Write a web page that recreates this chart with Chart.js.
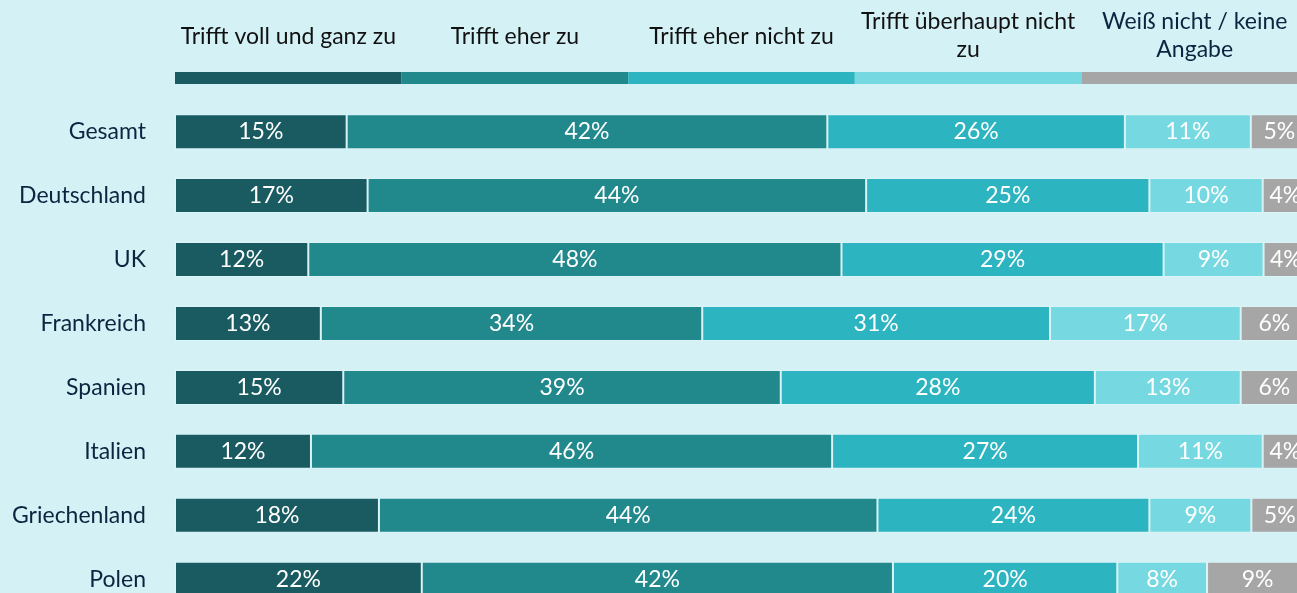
<!DOCTYPE html>
<html>
<head>
<meta charset="utf-8">
<script src="https://cdn.jsdelivr.net/npm/chart.js@4.4.1/dist/chart.umd.min.js"></script>
<style>
  html, body { margin: 0; padding: 0; background: #d4f1f5; overflow: hidden; width: 1297px; height: 593px; }
  #wrap { position: relative; width: 1320px; height: 654px; }
</style>
</head>
<body>
<div id="wrap"><canvas id="c" width="1320" height="654"></canvas></div>
<script>
const categories = ["Gesamt", "Deutschland", "UK", "Frankreich", "Spanien", "Italien", "Griechenland", "Polen"];
const seriesNames = [["Trifft voll und ganz zu"], ["Trifft eher zu"], ["Trifft eher nicht zu"], ["Trifft überhaupt nicht", "zu"], ["Weiß nicht / keine", "Angabe"]];
const trifftVoll      = [15, 17, 12, 13, 15, 12, 18, 22];
const trifftEher      = [42, 44, 48, 34, 39, 46, 44, 42];
const trifftEherNicht = [26, 25, 29, 31, 28, 27, 24, 20];
const trifftNicht     = [11, 10, 9, 17, 13, 11, 9, 8];
const weissNicht      = [5, 4, 4, 6, 6, 4, 5, 9];
const colors = ["#195b61", "#21888c", "#2cb5c0", "#76d8e0", "#a6a6a6"];
const legendTextColors = ["#111111", "#111111", "#111111", "#111111", "#0d2440"];

const raw = [trifftVoll, trifftEher, trifftEherNicht, trifftNicht, weissNicht];
const totals = categories.map((_, i) => raw.reduce((s, a) => s + a[i], 0));
const FONT = "Lato, 'Open Sans', sans-serif";

const datasets = raw.map((arr, k) => ({
  label: seriesNames[k].join(" "),
  data: arr.map((v, i) => v / totals[i] * 100),
  rawValues: arr,
  backgroundColor: colors[k],
  borderColor: "rgba(255,255,255,0.22)",
  borderWidth: 1,
  borderSkipped: false,
  categoryPercentage: 1,
  barPercentage: 0.547
}));

const topLegend = {
  id: "topLegend",
  afterDraw(chart) {
    const ctx = chart.ctx;
    const a = chart.chartArea;
    const w = (a.right - a.left) / 5;
    ctx.save();
    seriesNames.forEach((lines, k) => {
      const x0 = a.left + k * w;
      ctx.fillStyle = colors[k];
      ctx.fillRect(x0, 72, w, 12);
      ctx.fillStyle = legendTextColors[k];
      ctx.font = "23px " + FONT;
      ctx.textAlign = "center";
      ctx.textBaseline = "alphabetic";
      const cx = x0 + w / 2;
      if (lines.length === 1) {
        ctx.fillText(lines[0], cx, 44);
      } else {
        ctx.fillText(lines[0], cx, 28.5);
        ctx.fillText(lines[1], cx, 57);
      }
    });
    ctx.restore();
  }
};

const valueLabels = {
  id: "valueLabels",
  afterDatasetsDraw(chart) {
    const ctx = chart.ctx;
    ctx.save();
    ctx.font = "23px " + FONT;
    ctx.fillStyle = "#ffffff";
    ctx.textAlign = "center";
    ctx.textBaseline = "middle";
    chart.data.datasets.forEach((ds, k) => {
      const meta = chart.getDatasetMeta(k);
      meta.data.forEach((el, i) => {
        const x = (el.x + el.base) / 2;
        ctx.fillText(ds.rawValues[i] + "%", x, el.y);
      });
    });
    ctx.restore();
  }
};

new Chart(document.getElementById("c"), {
  type: "bar",
  data: { labels: categories, datasets },
  options: {
    indexAxis: "y",
    responsive: false,
    maintainAspectRatio: false,
    animation: false,
    layout: { padding: { top: 99.7, bottom: 8.3, right: 12, left: 0 } },
    plugins: { legend: { display: false }, tooltip: { enabled: false } },
    scales: {
      x: { stacked: true, min: 0, max: 100, display: false },
      y: {
        stacked: true,
        grid: { display: false, drawTicks: false },
        border: { display: false },
        ticks: { color: "#0d2440", font: { family: FONT, size: 23 }, padding: 29 },
        afterFit(scale) { scale.width = 175; }
      }
    }
  },
  plugins: [topLegend, valueLabels]
});
</script>
</body>
</html>
